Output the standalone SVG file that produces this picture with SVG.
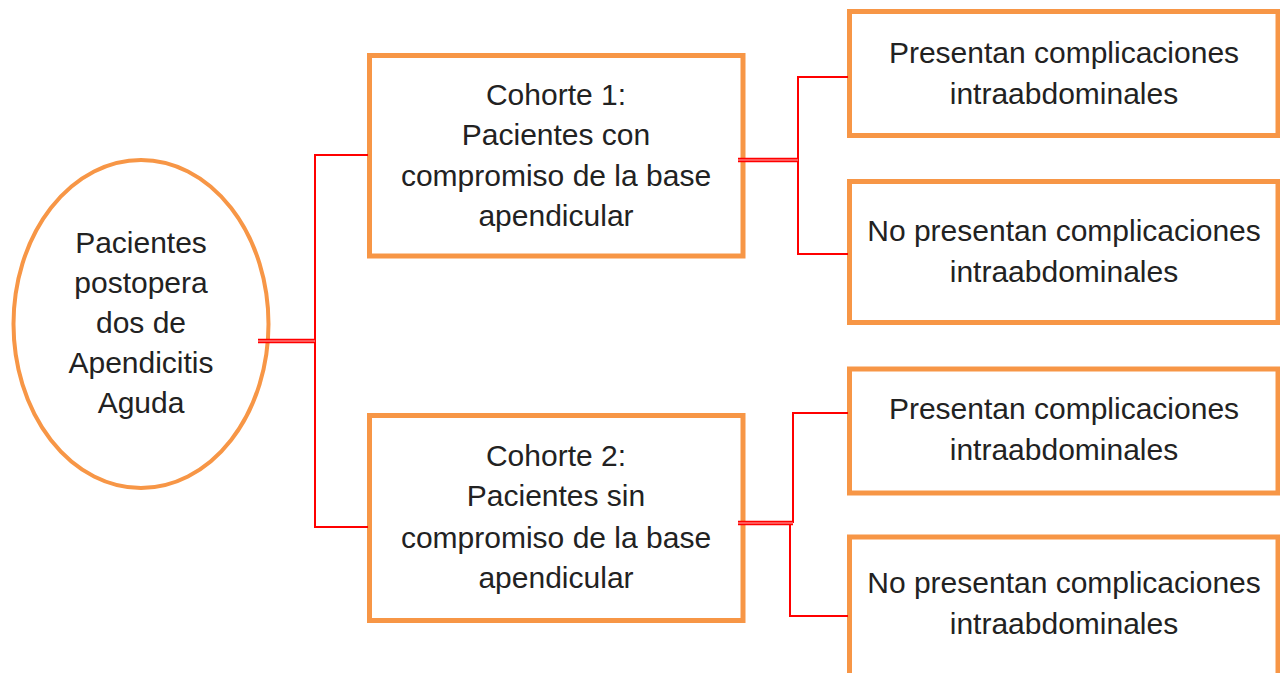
<svg xmlns="http://www.w3.org/2000/svg" width="1280" height="673" viewBox="0 0 1280 673">
<style>
.box{fill:#fff;stroke:#F79646;stroke-width:5}
.t{font-family:"Liberation Sans",Arial,sans-serif;font-size:30px;fill:#222;text-anchor:middle}
.ln{fill:none;stroke:#FF0000;stroke-width:2}
.dbl{fill:none;stroke:#FF0000;stroke-width:4.5}
.dbli{fill:none;stroke:#FFB0B0;stroke-width:1.2}
</style>
<rect width="1280" height="673" fill="#fff"/>
<g id="root">
<ellipse cx="141" cy="324" rx="127.5" ry="164" fill="#fff" stroke="#F79646" stroke-width="4"/>
<text class="t" x="141" y="253">Pacientes</text>
<text class="t" x="141" y="293">postopera</text>
<text class="t" x="141" y="333">dos de</text>
<text class="t" x="141" y="373">Apendicitis</text>
<text class="t" x="141" y="413">Aguda</text>
</g>
<g id="cohorte1">
<rect class="box" x="369.5" y="55.5" width="373.5" height="200.5"/>
<text class="t" x="556" y="105">Cohorte 1:</text>
<text class="t" x="556" y="145">Pacientes con</text>
<text class="t" x="556" y="186">compromiso de la base</text>
<text class="t" x="556" y="226">apendicular</text>
</g>
<g id="cohorte2">
<rect class="box" x="369.5" y="415.5" width="373.5" height="205"/>
<text class="t" x="556" y="466">Cohorte 2:</text>
<text class="t" x="556" y="506">Pacientes sin</text>
<text class="t" x="556" y="548">compromiso de la base</text>
<text class="t" x="556" y="588">apendicular</text>
</g>
<g id="c1-si">
<rect class="box" x="849.5" y="11.5" width="428.5" height="124"/>
<text class="t" x="1064" y="63">Presentan complicaciones</text>
<text class="t" x="1064" y="104">intraabdominales</text>
</g>
<g id="c1-no">
<rect class="box" x="849.5" y="181.5" width="428.5" height="141"/>
<text class="t" x="1064" y="241">No presentan complicaciones</text>
<text class="t" x="1064" y="282">intraabdominales</text>
</g>
<g id="c2-si">
<rect class="box" x="849.5" y="369" width="428.5" height="124"/>
<text class="t" x="1064" y="419">Presentan complicaciones</text>
<text class="t" x="1064" y="460">intraabdominales</text>
</g>
<g id="c2-no">
<rect class="box" x="849.5" y="537" width="428.5" height="150"/>
<text class="t" x="1064" y="593">No presentan complicaciones</text>
<text class="t" x="1064" y="634">intraabdominales</text>
</g>
<g id="connectors">
<polyline class="ln" points="368,155 315,155 315,527 368,527"/>
<polyline class="ln" points="848,77 798,77 798,254 848,254"/>
<polyline class="ln" points="848,413 793,413 793,523"/>
<polyline class="ln" points="790,523 790,616 848,616"/>
<line class="dbl" x1="258" y1="341" x2="315" y2="341"/>
<line class="dbli" x1="258" y1="341" x2="315" y2="341"/>
<line class="dbl" x1="738" y1="160" x2="798" y2="160"/>
<line class="dbli" x1="738" y1="160" x2="798" y2="160"/>
<line class="dbl" x1="738" y1="523" x2="793" y2="523"/>
<line class="dbli" x1="738" y1="523" x2="793" y2="523"/>
</g>
</svg>
